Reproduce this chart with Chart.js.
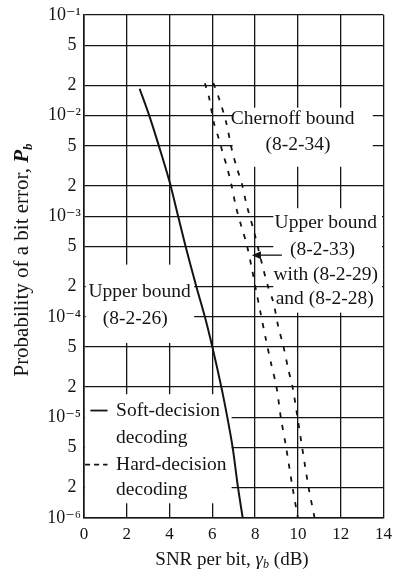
<!DOCTYPE html>
<html>
<head>
<meta charset="utf-8">
<script src="https://cdn.jsdelivr.net/npm/chart.js@4"></script>
<style>
  body { margin: 0; background: #fff; }
  #wrap { width: 398px; height: 570px; }
</style>
</head>
<body>
<div id="wrap"><canvas id="berChart"></canvas></div>
<script>
// Golay (23,12) bit error bounds: SNR per bit (dB) against Pb
const softSnr = [2.6, 3.05, 3.5, 4.0, 4.4, 4.75, 5.25, 5.65, 6.0, 6.42, 6.7, 6.95, 7.2, 7.42];
const softPb = [1.85e-2, 1e-2, 5e-3, 2.2e-3, 1e-3, 5e-4, 2e-4, 1e-4, 5e-5, 2e-5, 1e-5, 5e-6, 2e-6, 1e-6];

const hardSnr = [5.65, 5.85, 6.07, 6.3, 6.48, 6.7, 6.88, 7.1, 7.35, 7.6, 7.85, 8.05, 8.25, 8.5, 8.75, 9.0, 9.2, 9.45, 9.75, 10.0];
const hardPb = [2.1e-2, 1.5e-2, 8.5e-3, 5.9e-3, 4.3e-3, 3e-3, 2.1e-3, 1.25e-3, 8e-4, 5.3e-4, 3e-4, 1.8e-4, 1.1e-4, 6e-5, 3.4e-5, 2e-5, 1e-5, 5e-6, 2e-6, 1e-6];

const chernoffSnr = [6.05, 6.35, 6.65, 6.92, 7.15, 7.38, 7.6, 7.95, 8.3, 8.6, 8.85, 9.08, 9.33, 9.55, 9.75, 9.98, 10.2, 10.5, 10.78];
const chernoffPb = [2.1e-2, 1.4e-2, 8.5e-3, 4.5e-3, 3e-3, 2.1e-3, 1.3e-3, 7e-4, 3.5e-4, 2e-4, 1.4e-4, 8e-5, 5e-5, 3e-5, 2e-5, 1e-5, 5e-6, 2e-6, 1e-6];

const xTicks = [0, 2, 4, 6, 8, 10, 12, 14];
const yTicks = [1e-6, 2e-6, 5e-6, 1e-5, 2e-5, 5e-5, 1e-4, 2e-4, 5e-4, 1e-3, 2e-3, 5e-3, 1e-2, 2e-2, 5e-2, 1e-1];
// the trailing space keeps the 2s and 5s a little off the axis, as in print
const yTickLabels = ["10⁻⁶", "2 ", "5 ", "10⁻⁵", "2 ", "5 ", "10⁻⁴", "2 ", "5 ", "10⁻³", "2 ", "5 ", "10⁻²", "2 ", "5 ", "10⁻¹"];

const SERIF = '"Liberation Serif", "DejaVu Serif", serif';
const INK = "#141414";

// white label boxes sit over the grid, the curves are drawn on top of them
const boxes = [
  { x0: 0.08, x1: 5.15, y0: 3.3e-4, y1: 5.5e-5,
    lines: [["Upper bound", 2.6, 1.75e-4], ["(8-2-26)", 2.4, 9.5e-5]] },
  { x0: 6.95, x1: 13.5, y0: 1.2e-2, y1: 3.1e-3,
    lines: [["Chernoff bound", 9.75, 9.3e-3], ["(8-2-34)", 10.0, 5.1e-3]] },
  { x0: 8.85, x1: 13.93, y0: 1.2e-3, y1: 1.1e-4,
    lines: [["Upper bound", 11.3, 8.5e-4], ["(8-2-33)", 11.15, 4.6e-4],
            ["with (8-2-29)", 11.3, 2.6e-4], ["and (8-2-28)", 11.25, 1.5e-4]] },
  { x0: 0.05, x1: 6.9, y0: 1.7e-5, y1: 1.4e-6,
    lines: [["Soft-decision", 1.5, 1.17e-5, "left"], ["decoding", 1.5, 6.3e-6, "left"],
            ["Hard-decision", 1.5, 3.4e-6, "left"], ["decoding", 1.5, 1.9e-6, "left"]] }
];

const legendSamples = [
  { x0: 0.3, x1: 1.1, y: 1.17e-5, dash: [] },
  { x0: 0.05, x1: 1.1, y: 3.4e-6, dash: [5, 4] }
];

const arrow = { from: [9.25, 4.1e-4], to: [7.85, 4.1e-4] };

function drawRich(ctx, parts, cx, cy) {
  let total = 0;
  parts.forEach(p => { ctx.font = p.font; total += ctx.measureText(p.t).width; });
  let x = cx - total / 2;
  parts.forEach(p => {
    ctx.font = p.font;
    ctx.fillText(p.t, x, cy + (p.dy || 0));
    x += ctx.measureText(p.t).width;
  });
}

const annotations = {
  id: "annotations",
  beforeDatasetsDraw(chart) {
    const { ctx, scales: { x, y } } = chart;
    ctx.save();
    boxes.forEach(b => {
      const px0 = x.getPixelForValue(b.x0), px1 = x.getPixelForValue(b.x1);
      const py0 = y.getPixelForValue(b.y0), py1 = y.getPixelForValue(b.y1);
      ctx.fillStyle = "#fff";
      ctx.fillRect(px0, py0, px1 - px0, py1 - py0);
      ctx.fillStyle = INK;
      ctx.font = "19.5px " + SERIF;
      ctx.textBaseline = "middle";
      b.lines.forEach(([t, lx, ly, align]) => {
        ctx.textAlign = align || "center";
        ctx.fillText(t, x.getPixelForValue(lx), y.getPixelForValue(ly));
      });
    });
    ctx.strokeStyle = INK;
    ctx.lineWidth = 1.8;
    legendSamples.forEach(s => {
      ctx.setLineDash(s.dash);
      ctx.beginPath();
      ctx.moveTo(x.getPixelForValue(s.x0), y.getPixelForValue(s.y));
      ctx.lineTo(x.getPixelForValue(s.x1), y.getPixelForValue(s.y));
      ctx.stroke();
    });
    ctx.restore();
  },
  afterDatasetsDraw(chart) {
    const { ctx, scales: { x, y } } = chart;
    const fx = x.getPixelForValue(arrow.from[0]), fy = y.getPixelForValue(arrow.from[1]);
    const tx = x.getPixelForValue(arrow.to[0]), ty = y.getPixelForValue(arrow.to[1]);
    ctx.save();
    ctx.strokeStyle = INK;
    ctx.fillStyle = INK;
    ctx.lineWidth = 1.3;
    ctx.beginPath();
    ctx.moveTo(fx, fy);
    ctx.lineTo(tx + 6, ty);
    ctx.stroke();
    ctx.beginPath();
    ctx.moveTo(tx, ty);
    ctx.lineTo(tx + 9, ty - 4);
    ctx.lineTo(tx + 9, ty + 4);
    ctx.closePath();
    ctx.fill();
    ctx.restore();
  },
  afterDraw(chart) {
    const { ctx } = chart;
    ctx.save();
    ctx.fillStyle = INK;
    ctx.textBaseline = "alphabetic";
    ctx.textAlign = "left";
    const fx = "19px " + SERIF;
    drawRich(ctx, [
      { t: "SNR per bit, ", font: fx },
      { t: "γ", font: "italic " + fx },
      { t: "b", font: "italic 12px " + SERIF, dy: 3 },
      { t: " (dB)", font: fx }
    ], 232, 565);
    const fy = "21px " + SERIF;
    ctx.translate(28, 260);
    ctx.rotate(-Math.PI / 2);
    drawRich(ctx, [
      { t: "Probability of a bit error, ", font: fy },
      { t: "P", font: "bold italic " + fy },
      { t: "b", font: "bold italic 13px " + SERIF, dy: 4 }
    ], 0, 0);
    ctx.restore();
  }
};

const line = (snr, pb, dash, width) => ({
  data: snr.map((s, i) => ({ x: s, y: pb[i] })),
  borderColor: INK,
  borderWidth: width,
  borderDash: dash,
  pointRadius: 0,
  tension: 0.3,
  fill: false
});

new Chart(document.getElementById("berChart"), {
  type: "line",
  data: {
    datasets: [
      Object.assign(line(softSnr, softPb, [], 2), { label: "Soft-decision decoding" }),
      Object.assign(line(hardSnr, hardPb, [5, 8], 1.8), { label: "Upper bound (8-2-33)" }),
      Object.assign(line(chernoffSnr, chernoffPb, [5, 8], 1.8), { label: "Chernoff bound (8-2-34)" })
    ]
  },
  options: {
    responsive: true,
    maintainAspectRatio: false,
    animation: false,
    layout: { padding: { top: 15, right: 9, left: 0, bottom: 0 } },
    plugins: { legend: { display: false }, tooltip: { enabled: false } },
    scales: {
      x: {
        type: "linear",
        min: 0,
        max: 14,
        afterBuildTicks: s => { s.ticks = xTicks.map(v => ({ value: v })); },
        afterFit: s => { s.height = 52; },
        grid: { color: INK, lineWidth: 1.3, drawTicks: false },
        border: { color: INK, width: 1.6 },
        ticks: { color: INK, padding: 6, maxRotation: 0, font: { family: SERIF, size: 17 } }
      },
      y: {
        type: "logarithmic",
        min: 1e-6,
        max: 1e-1,
        afterBuildTicks: s => { s.ticks = yTicks.map(v => ({ value: v })); },
        afterFit: s => { s.width = 84; },
        grid: { color: INK, lineWidth: 1.3, drawTicks: false },
        border: { color: INK, width: 1.6 },
        ticks: {
          color: INK,
          padding: 3,
          font: { family: SERIF, size: 18 },
          callback: (v, i) => yTickLabels[i]
        }
      }
    }
  },
  plugins: [annotations]
});
</script>
</body>
</html>
